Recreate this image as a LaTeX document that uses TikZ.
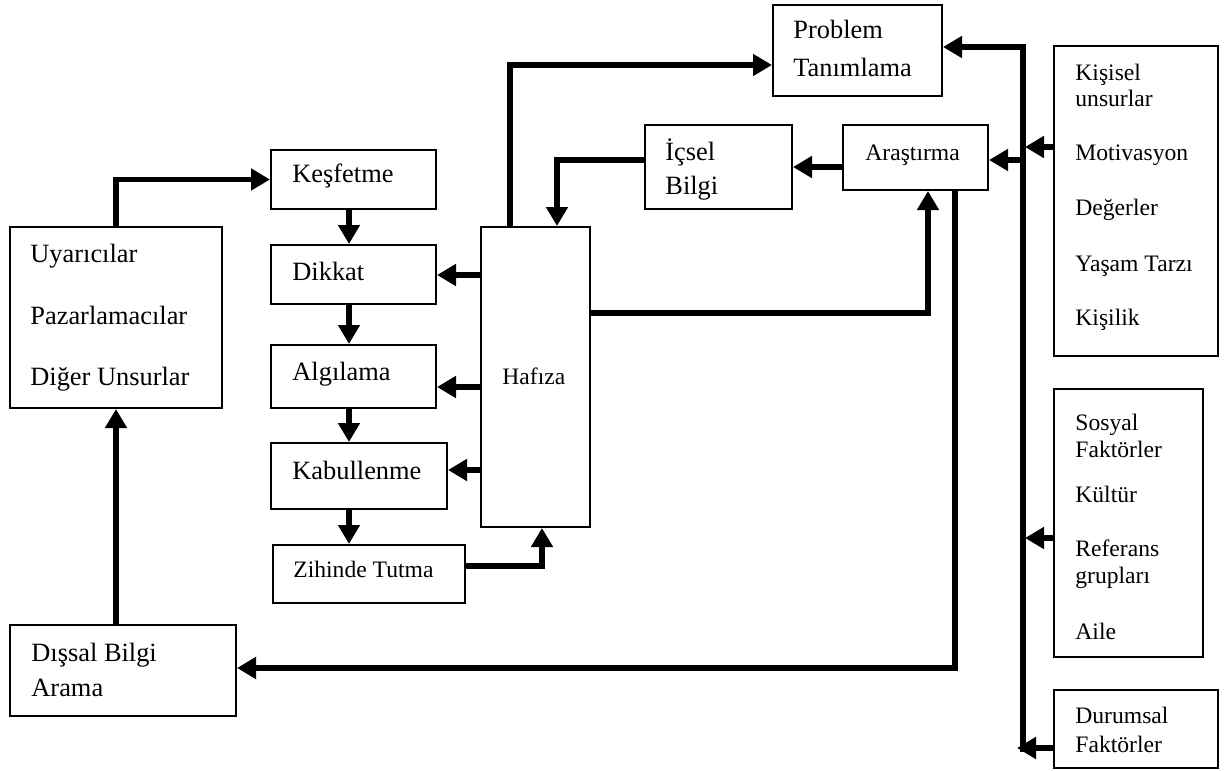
\documentclass[tikz,border=0pt]{standalone}
\usepackage{fontspec}
\setmainfont{Liberation Serif}
\usetikzlibrary{arrows.meta,fit}
\begin{document}
\begin{tikzpicture}[x=0.5pt,y=-0.5pt,
  box/.style={draw,line width=1pt,inner sep=0pt},
  big/.style={inner sep=0pt,anchor=base west,font=\fontsize{13.2pt}{15pt}\selectfont},
  small/.style={inner sep=0pt,anchor=base west,font=\fontsize{11.8pt}{14pt}\selectfont},
  conn/.style={line width=2.7pt,-{Triangle[length=9.5pt,width=10.5pt]}}]
\useasboundingbox (0,0) rectangle (1227,771);
% boxes
\node[box,fit={(10,227) (222,408)}] (uya) {};
\node[box,fit={(271,150) (436,209)}] (kes) {};
\node[box,fit={(271,245) (436,304)}] (dik) {};
\node[box,fit={(271,345) (436,408)}] (alg) {};
\node[box,fit={(271,443) (447,509)}] (kab) {};
\node[box,fit={(273,545) (465,603)}] (zih) {};
\node[box,fit={(481,227) (590,527)}] (haf) {};
\node[box,fit={(773,5) (942,96)}] (prob) {};
\node[box,fit={(645,125) (792,209)}] (ics) {};
\node[box,fit={(843,125) (988,190)}] (ara) {};
\node[box,fit={(10,625) (236,716)}] (dis) {};
\node[box,fit={(1054,46) (1218,356)}] (kis) {};
\node[box,fit={(1054,389) (1203,657)}] (sos) {};
\node[box,fit={(1054,690) (1218,768)}] (dur) {};
% texts
\node[big] (t1) at (30,262) {Uyarıcılar};
\node[big] (t2) at (30,324) {Pazarlamacılar};
\node[big] (t3) at (30,385) {Diğer Unsurlar};
\node[big] (t4) at (292,182) {Keşfetme};
\node[big] (t5) at (292,280) {Dikkat};
\node[big] (t6) at (292,380) {Algılama};
\node[big] (t7) at (292,479) {Kabullenme};
\node[small] (t8) at (293,577) {Zihinde Tutma};
\node[small] (t9) at (502,384) {Hafıza};
\node[big] (t10) at (793,39) {Problem};
\node[big] (t11) at (793,76) {Tanımlama};
\node[big] (t12) at (665,160) {İçsel};
\node[big] (t13) at (665,194) {Bilgi};
\node[small] (t14) at (865,160) {Araştırma};
\node[big] (t15) at (31,661) {Dışsal Bilgi};
\node[big] (t16) at (31,696) {Arama};
\node[small] (t17) at (1075,80) {Kişisel};
\node[small] (t18) at (1075,106) {unsurlar};
\node[small] (t19) at (1075,160) {Motivasyon};
\node[small] (t20) at (1075,215) {Değerler};
\node[small] (t21) at (1075,271) {Yaşam Tarzı};
\node[small] (t22) at (1075,325) {Kişilik};
\node[small] (t23) at (1075,430) {Sosyal};
\node[small] (t24) at (1075,457) {Faktörler};
\node[small] (t25) at (1075,502) {Kültür};
\node[small] (t26) at (1075,556) {Referans};
\node[small] (t27) at (1075,583) {grupları};
\node[small] (t28) at (1075,639) {Aile};
\node[small] (t29) at (1075,723) {Durumsal};
\node[small] (t30) at (1075,752) {Faktörler};
% helper coordinates
\coordinate (cx) at (349,0);
\coordinate (busT) at (1023,47);
\coordinate (busB) at (1023,752);
\coordinate (bus1) at (1025,147);
\coordinate (bus2) at (1025,538);
\coordinate (bus3) at (1017,748);
% connectors
\draw[conn] (uya.north) |- (kes.west);
\draw[conn] (dis.north -| uya.south) -- (uya.south);
\draw[conn] (kes.south -| cx) -- (dik.north -| cx);
\draw[conn] (dik.south -| cx) -- (alg.north -| cx);
\draw[conn] (alg.south -| cx) -- (kab.north -| cx);
\draw[conn] (kab.south -| cx) -- (zih.north -| cx);
\draw[conn] (haf.west |- 0,275) -- (dik.east |- 0,275);
\draw[conn] (haf.west |- 0,387) -- (alg.east |- 0,387);
\draw[conn] (haf.west |- 0,470) -- (kab.east |- 0,470);
\draw[conn] (zih.east |- 0,566) -| (haf.south -| 542,0);
\draw[conn] (haf.north -| 510,0) |- (prob.west |- 0,65);
\draw[conn] (ara.west |- 0,167) -- (ics.east |- 0,167);
\draw[conn] (ics.west |- 0,160) -| (haf.north -| 557,0);
\draw[conn] (haf.east |- 0,313) -| (ara.south -| 928,0);
\draw[conn] (ara.south -| 955,0) |- (dis.east |- 0,668);
\draw[conn] (busB) -- (busT) -- (prob.east |- busT);
\draw[conn] (busB |- 0,160) -- (ara.east |- 0,160);
\draw[conn] (kis.west |- bus1) -- (bus1);
\draw[conn] (sos.west |- bus2) -- (bus2);
\draw[conn] (dur.west |- bus3) -- (bus3);
\end{tikzpicture}
\end{document}
